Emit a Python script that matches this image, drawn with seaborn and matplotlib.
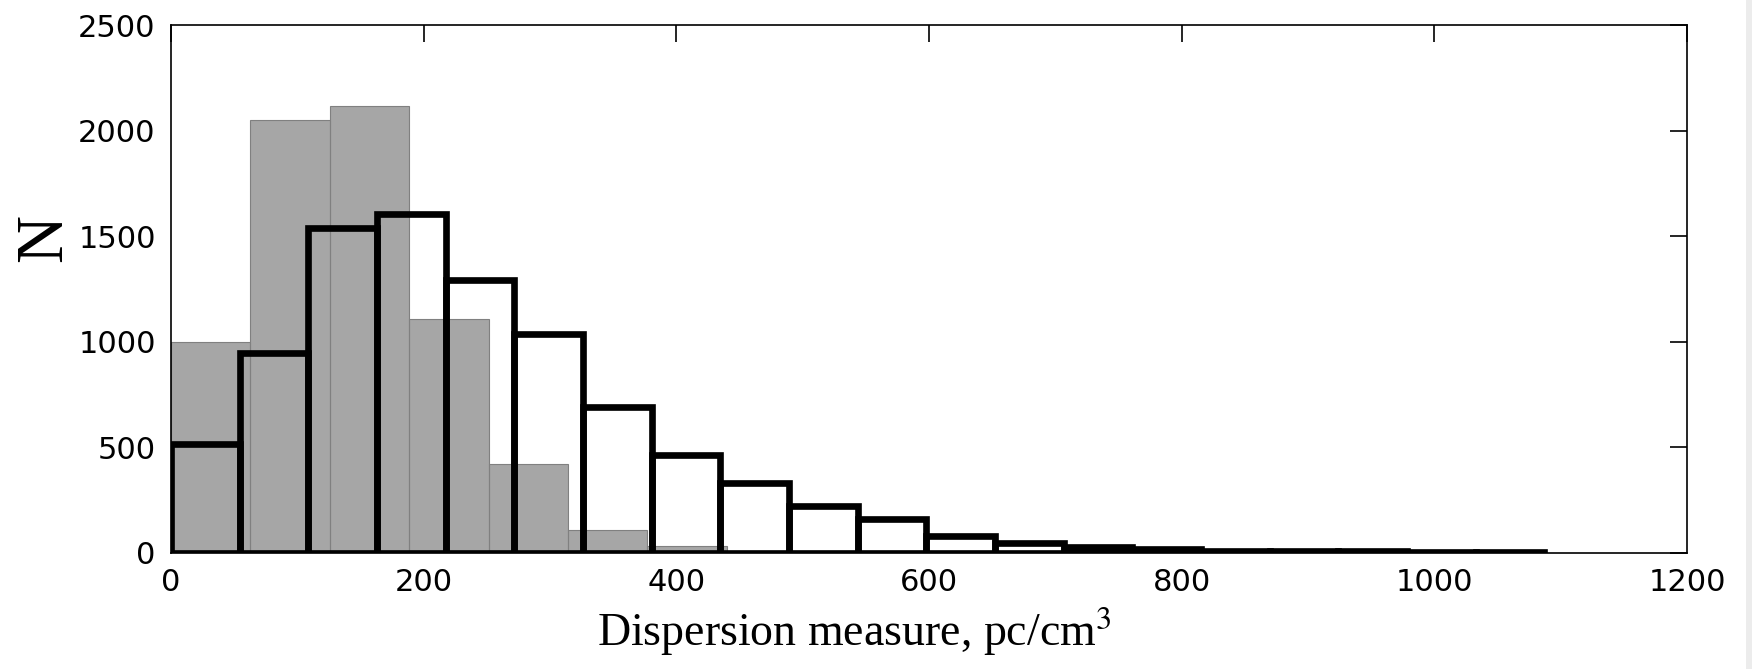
import numpy as np
import matplotlib
matplotlib.use("Agg")
import matplotlib.pyplot as plt
from matplotlib.patches import Rectangle
import seaborn as sns

# Histogram of dispersion measures: filled grey (narrow sample) and black outline (broad sample)
grey_edges = [0, 62.9, 125.7, 188.6, 251.4, 314.3, 377.1, 440.0]
grey_counts = [1000, 2050, 2115, 1110, 420, 110, 33]

black_edges = [0, 54.35, 108.7, 163.05, 217.4, 271.75, 326.1, 380.45, 434.8, 489.15,
               543.5, 597.85, 652.2, 706.55, 760.9, 815.25, 869.6, 923.95, 978.3,
               1032.65, 1087.0]
black_counts = [515, 945, 1540, 1605, 1295, 1035, 690, 462, 331, 224,
                159, 82, 45, 29, 19, 10, 10, 10, 3, 3]

x_ticks = [0, 200, 400, 600, 800, 1000, 1200]
y_ticks = [0, 500, 1000, 1500, 2000, 2500]

sns.set_style("white")
plt.rcParams["font.family"] = ["DejaVu Sans"]
plt.rcParams["mathtext.fontset"] = "stix"
plt.rcParams["text.color"] = "black"
plt.rcParams["axes.labelcolor"] = "black"

fig = plt.figure(figsize=(17.52, 6.69), dpi=100)
ax = fig.add_axes([0.0976, 0.1734, 0.8653, 0.7892])

grey_centers = [(a + b) / 2 for a, b in zip(grey_edges[:-1], grey_edges[1:])]
black_centers = [(a + b) / 2 for a, b in zip(black_edges[:-1], black_edges[1:])]

sns.histplot(x=grey_centers, weights=grey_counts, bins=grey_edges, ax=ax,
             color="gray", alpha=0.7, edgecolor="gray", linewidth=0.8,
             zorder=1)
sns.histplot(x=black_centers, weights=black_counts, bins=black_edges, ax=ax,
             fill=False, color="black", linewidth=4.8, zorder=2)

ax.set_xlim(0, 1200)
ax.set_ylim(0, 2500)
ax.set_xticks(x_ticks)
ax.set_yticks(y_ticks)
ax.tick_params(axis="both", which="major", direction="in", length=12.5, width=1.2,
               top=True, right=True, labelsize=22, pad=11, colors="black")
for side in ax.spines.values():
    side.set_visible(True)
    side.set_color("black")
    side.set_linewidth(1.2)

ax.set_xlabel(r"Dispersion measure, pc/cm$^3$", fontsize=33,
              family="Liberation Serif", color="black")
ax.xaxis.set_label_coords(0.451, -0.1)
ax.set_ylabel("N", fontsize=48, family="Liberation Serif", color="black")
ax.yaxis.set_label_coords(-0.063, 0.596)

# light band along the right edge of the page
fig.add_artist(Rectangle((1746 / 1752, 0), 6 / 1752, 1, transform=fig.transFigure,
                         facecolor="#ececec", edgecolor="none"))

fig.savefig("out.png", dpi=100)
